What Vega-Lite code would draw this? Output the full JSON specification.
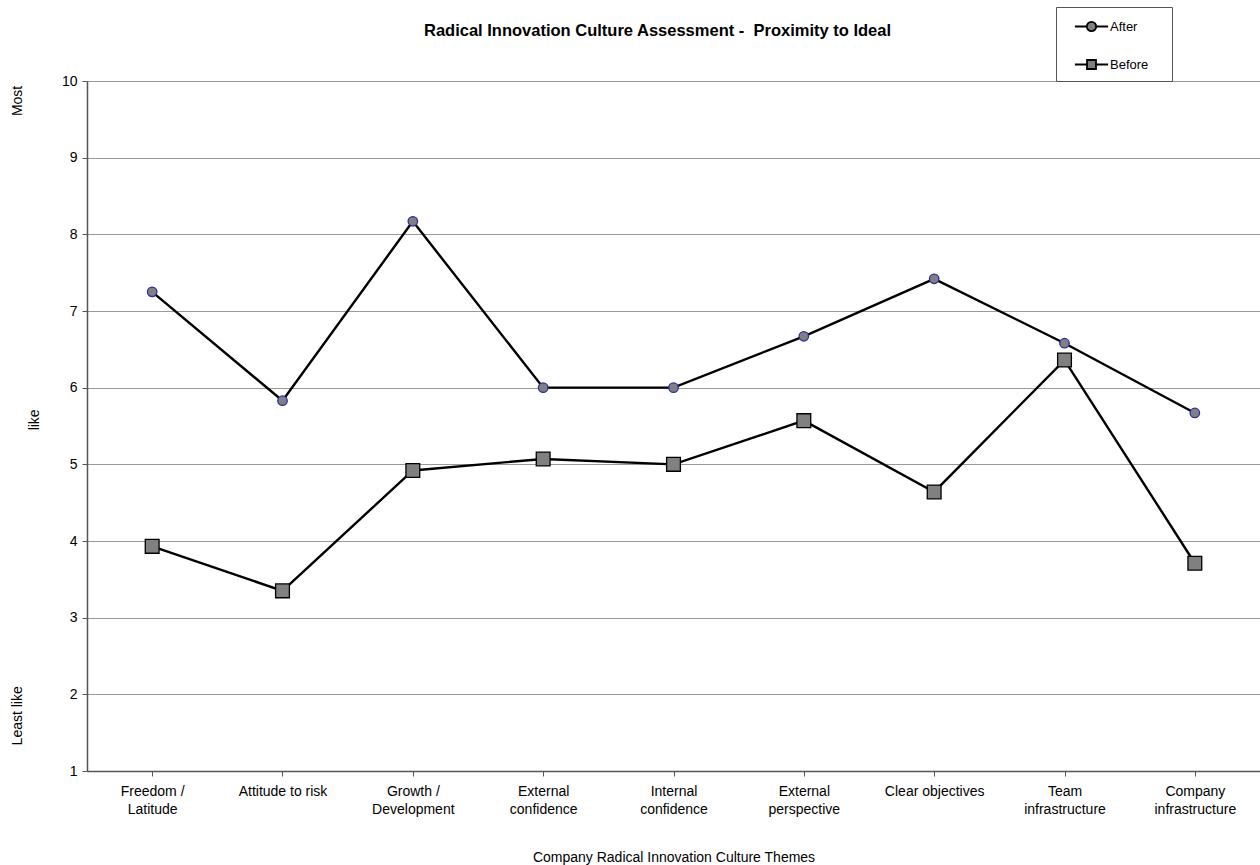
{
  "$schema": "https://vega.github.io/schema/vega-lite/v6.json",
  "width": 1173,
  "height": 690,
  "autosize": {"type": "none"},
  "padding": {"left": 87, "top": 81, "right": 0, "bottom": 94},
  "background": "white",
  "config": {
    "font": "Liberation Sans",
    "view": {"stroke": null}
  },
  "title": {
    "text": "Radical Innovation Culture Assessment - \u00a0Proximity to Ideal",
    "fontSize": 16.5,
    "fontWeight": "bold",
    "color": "black",
    "anchor": "middle",
    "offset": 0,
    "dy": 33,
    "dx": -16
  },
  "datasets": {
    "scores": [
      {"theme": "Freedom / Latitude", "series": "After", "value": 7.25},
      {"theme": "Attitude to risk", "series": "After", "value": 5.83},
      {"theme": "Growth / Development", "series": "After", "value": 8.17},
      {"theme": "External confidence", "series": "After", "value": 6.0},
      {"theme": "Internal confidence", "series": "After", "value": 6.0},
      {"theme": "External perspective", "series": "After", "value": 6.67},
      {"theme": "Clear objectives", "series": "After", "value": 7.42},
      {"theme": "Team infrastructure", "series": "After", "value": 6.58},
      {"theme": "Company infrastructure", "series": "After", "value": 5.67},
      {"theme": "Freedom / Latitude", "series": "Before", "value": 3.93},
      {"theme": "Attitude to risk", "series": "Before", "value": 3.35},
      {"theme": "Growth / Development", "series": "Before", "value": 4.92},
      {"theme": "External confidence", "series": "Before", "value": 5.07},
      {"theme": "Internal confidence", "series": "Before", "value": 5.0},
      {"theme": "External perspective", "series": "Before", "value": 5.57},
      {"theme": "Clear objectives", "series": "Before", "value": 4.64},
      {"theme": "Team infrastructure", "series": "Before", "value": 6.36},
      {"theme": "Company infrastructure", "series": "Before", "value": 3.71}
    ],
    "outer": [
      {"label": "Most", "pos": 9.74},
      {"label": "Least like", "pos": 1.72}
    ],
    "inner": [
      {"label": "like", "pos": 5.58}
    ]
  },
  "data": {"name": "scores"},
  "encoding": {
    "x": {
      "field": "theme",
      "type": "nominal",
      "sort": null,
      "scale": {
        "domain": ["Freedom / Latitude", "Attitude to risk", "Growth / Development", "External confidence", "Internal confidence", "External perspective", "Clear objectives", "Team infrastructure", "Company infrastructure"],
        "paddingInner": 0,
        "paddingOuter": 0
      },
      "axis": {
        "title": "Company Radical Innovation Culture Themes",
        "titleFontSize": 14,
        "titleFontWeight": "normal",
        "titleColor": "black",
        "titlePadding": 34,
        "labelAngle": 0,
        "labelFontSize": 14,
        "labelColor": "black",
        "labelPadding": 8,
        "labelLineHeight": 18,
        "labelLimit": 200,
        "labelExpr": "(datum.value == 'Attitude to risk' || datum.value == 'Clear objectives') ? datum.value : [substring(datum.value, 0, lastindexof(datum.value, ' ')), substring(datum.value, lastindexof(datum.value, ' ') + 1)]",
        "bandPosition": 0,
        "ticks": true,
        "tickSize": 5,
        "tickColor": "#555555",
        "domainColor": "#555555",
        "domainWidth": 1.5,
        "grid": false
      }
    },
    "y": {
      "field": "value",
      "type": "quantitative",
      "scale": {"domain": [1, 10], "nice": false, "zero": false},
      "axis": {
        "title": null,
        "values": [1, 2, 3, 4, 5, 6, 7, 8, 9, 10],
        "labelFontSize": 14,
        "labelColor": "black",
        "labelPadding": 5,
        "tickSize": 5,
        "tickColor": "#555555",
        "domainColor": "#555555",
        "domainWidth": 1.5,
        "grid": true,
        "gridColor": "#999999",
        "gridWidth": 1.2
      }
    }
  },
  "layer": [
    {
      "mark": {"type": "line", "color": "black", "strokeWidth": 2.4},
      "encoding": {"detail": {"field": "series"}}
    },
    {
      "transform": [{"filter": "datum.series == 'After'"}],
      "mark": {"type": "point", "shape": "circle", "filled": true, "fill": "#808080", "stroke": "#2b2ba8", "strokeWidth": 1.3, "size": 90, "opacity": 1},
      "encoding": {}
    },
    {
      "transform": [{"filter": "datum.series == 'Before'"}],
      "mark": {"type": "point", "shape": "square", "filled": true, "fill": "#808080", "stroke": "black", "strokeWidth": 1.3, "size": 190, "opacity": 1},
      "encoding": {}
    },
    {
      "transform": [{"filter": "false"}],
      "mark": {"type": "point", "filled": true, "fill": "#808080", "stroke": "black", "strokeWidth": 1.5, "opacity": 1},
      "encoding": {
        "shape": {
          "field": "series",
          "type": "nominal",
          "scale": {
            "domain": ["After", "Before"],
            "range": [
              "M-1,0H-0.28M0.28,0H1M-0.28,0A0.28,0.28 0 1,1 0.28,0A0.28,0.28 0 1,1 -0.28,0Z",
              "M-1,0H-0.27M0.27,0H1M-0.27,-0.27H0.27V0.27H-0.27ZM4.5,0.6"
            ]
          },
          "legend": {
            "title": null,
            "padding": 2,
            "orient": "none",
            "legendX": 969,
            "legendY": -74,
            "direction": "vertical",
            "strokeColor": "#555555",
            "fillColor": "white",
            "rowPadding": 12,
            "labelFontSize": 13,
            "labelColor": "black",
            "labelOffset": 1,
            "symbolSize": 1100,
            "symbolStrokeWidth": 1.8,
            "symbolOffset": 16,
            "labelLimit": 120,
            "encode": {
              "symbols": {
                "stroke": {"value": "black"},
                "strokeWidth": {"value": 1.8},
                "fill": {"value": "#808080"},
                "opacity": {"value": 1}
              }
            }
          }
        }
      }
    },
    {
      "data": {"name": "outer"},
      "mark": {"type": "text", "angle": 270, "align": "center", "baseline": "middle", "fontSize": 14, "color": "black", "dy": -134},
      "encoding": {
        "x": {"datum": "Freedom / Latitude"},
        "y": {"field": "pos", "type": "quantitative"},
        "text": {"field": "label"}
      }
    },
    {
      "data": {"name": "inner"},
      "mark": {"type": "text", "angle": 270, "align": "center", "baseline": "middle", "fontSize": 14, "color": "black", "dy": -117},
      "encoding": {
        "x": {"datum": "Freedom / Latitude"},
        "y": {"field": "pos", "type": "quantitative"},
        "text": {"field": "label"}
      }
    }
  ]
}
